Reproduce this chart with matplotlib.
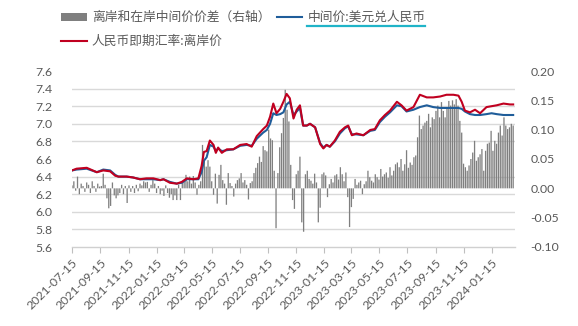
import numpy as np
import pandas as pd
import matplotlib
matplotlib.use("Agg")
import matplotlib.pyplot as plt
import matplotlib.dates as mdates
from matplotlib.patches import Patch
from matplotlib.lines import Line2D

plt.rcParams['font.family'] = ['Noto Sans CJK SC', 'DejaVu Sans']

# ---- data ----
line_dates = [
    '2021-07-15', '2021-07-25', '2021-08-16', '2021-09-07', '2021-09-21', '2021-10-06', '2021-10-17',
    '2021-10-24', '2021-11-11', '2021-11-25', '2021-12-10', '2021-12-24', '2022-01-08', '2022-01-23',
    '2022-01-30', '2022-02-13', '2022-02-28', '2022-03-11', '2022-03-22', '2022-04-05', '2022-04-16',
    '2022-04-23', '2022-04-28', '2022-05-04', '2022-05-11', '2022-05-19', '2022-05-24', '2022-05-29',
    '2022-06-06', '2022-06-17', '2022-07-01', '2022-07-16', '2022-07-30', '2022-08-10', '2022-08-21',
    '2022-09-04', '2022-09-12', '2022-09-19', '2022-09-26', '2022-10-03', '2022-10-11', '2022-10-18',
    '2022-10-25', '2022-11-01', '2022-11-09', '2022-11-16', '2022-11-23', '2022-11-30', '2022-12-08',
    '2022-12-15', '2022-12-26', '2023-01-06', '2023-01-13', '2023-01-20', '2023-01-27', '2023-02-07',
    '2023-02-18', '2023-03-01', '2023-03-08', '2023-03-16', '2023-03-26', '2023-04-10', '2023-04-25',
    '2023-05-05', '2023-05-16', '2023-05-27', '2023-06-07', '2023-06-22', '2023-07-02', '2023-07-13',
    '2023-07-28', '2023-08-11', '2023-08-26', '2023-09-09', '2023-09-24', '2023-10-08', '2023-10-23',
    '2023-11-03', '2023-11-10', '2023-11-17', '2023-11-28', '2023-12-09', '2023-12-20', '2024-01-03',
    '2024-01-14', '2024-01-25', '2024-02-09', '2024-02-23', '2024-03-01',
]
cnh_spot = [
    6.47, 6.49, 6.50, 6.45, 6.47, 6.46, 6.41,
    6.40, 6.40, 6.39, 6.37, 6.38, 6.38, 6.36,
    6.37, 6.33, 6.32, 6.34, 6.38, 6.37, 6.38,
    6.52, 6.68, 6.69, 6.81, 6.76, 6.67, 6.73,
    6.67, 6.71, 6.71, 6.76, 6.77, 6.74, 6.86,
    6.94, 6.98, 7.08, 7.23, 7.12, 7.17, 7.25,
    7.34, 7.29, 7.06, 7.16, 7.21, 6.98, 6.98,
    7.00, 6.96, 6.77, 6.72, 6.76, 6.74, 6.81,
    6.91, 6.96, 6.98, 6.87, 6.89, 6.87, 6.93,
    6.94, 7.04, 7.10, 7.15, 7.25, 7.21, 7.15,
    7.19, 7.33, 7.30, 7.30, 7.31, 7.33, 7.33,
    7.32, 7.25, 7.15, 7.13, 7.16, 7.12, 7.19,
    7.20, 7.21, 7.23, 7.22, 7.22,
]
cny_mid = [
    6.47, 6.48, 6.49, 6.45, 6.48, 6.47, 6.42,
    6.40, 6.40, 6.39, 6.37, 6.37, 6.37, 6.36,
    6.37, 6.34, 6.32, 6.33, 6.37, 6.37, 6.37,
    6.45, 6.58, 6.62, 6.76, 6.74, 6.69, 6.72,
    6.69, 6.70, 6.71, 6.75, 6.76, 6.75, 6.83,
    6.90, 6.93, 7.00, 7.12, 7.10, 7.11, 7.13,
    7.22, 7.25, 7.10, 7.14, 7.18, 6.98, 6.98,
    7.00, 6.96, 6.78, 6.73, 6.76, 6.74, 6.80,
    6.89, 6.95, 6.97, 6.88, 6.88, 6.87, 6.92,
    6.93, 7.02, 7.08, 7.13, 7.21, 7.20, 7.14,
    7.16, 7.19, 7.21, 7.19, 7.18, 7.18, 7.18,
    7.18, 7.17, 7.14, 7.11, 7.10, 7.10, 7.11,
    7.12, 7.11, 7.10, 7.10, 7.10,
]

# spread bars (right axis), one value every 4 calendar days from 2021-07-15
spread_start = '2021-07-15'
spread = [
    0.005, 0.012, -0.004, 0.02, -0.01, 0.008, 0.004, -0.006, 0.01, 0.006, -0.008, 0.012, 0.004, -0.006, 0.008, 0.003,
    0.004, 0.025, 0.006, -0.017, -0.034, -0.03, 0.01, -0.012, -0.017, -0.012, -0.008, 0.006, -0.01, 0.004, -0.025,
    0.005, -0.006, 0.004, -0.008, 0.006, -0.005, 0.008, 0.005, 0.012, 0.01, 0.011, -0.006, 0.006, 0.014, 0.008, -0.008, 0.004,
    -0.01, -0.004, -0.013, 0.005, -0.008, -0.016, -0.01, -0.02, -0.012, -0.02, 0.006, -0.02, 0.01,
    0.014, 0.023, 0.012, 0.02, 0.008, 0.021, 0.01, -0.011, 0.006, 0.012,
    0.074, 0.05, 0.037, 0.048, 0.037, 0.012, -0.011, 0.025,
    -0.026, 0.023, 0.04, 0.014, 0.008, -0.028, 0.026, 0.009, 0.004, -0.014, 0.008, 0.014,
    0.017, 0.026, 0.01, 0.014, 0.006, -0.019, 0.009, 0.012, 0.026,
    0.035, 0.043, 0.054, 0.045, 0.072, 0.065, 0.063, 0.10, 0.085, 0.082, 0.03, -0.068, 0.026,
    0.07, 0.094, 0.12, 0.168, 0.134, 0.114,
    0.04, -0.02, -0.035, 0.024, 0.03, 0.054, -0.058, -0.074, 0.024, 0.03, 0.016, 0.013, 0.008, 0.025, 0.01,
    -0.058, -0.033, 0.024, 0.027, 0.022, -0.015, 0.007, 0.016, 0.01, 0.022, 0.024, 0.015, 0.036, 0.024, 0.012,
    0.027, -0.015, -0.066, -0.032, -0.018, 0.016, 0.006, 0.01, 0.013, -0.01, 0.007, 0.012, 0.03, 0.019, 0.013,
    0.01, 0.024, 0.019, 0.015, 0.033, 0.02, 0.024, 0.027, 0.018, 0.036, 0.022, 0.03, 0.041, 0.044, 0.036,
    0.05, 0.03, 0.041, 0.065, 0.035, 0.044, 0.04, 0.053, 0.056, 0.087, 0.124, 0.101, 0.107, 0.112, 0.115,
    0.127, 0.104, 0.121, 0.118, 0.132, 0.141, 0.121, 0.147, 0.132, 0.121, 0.138, 0.149, 0.141, 0.15, 0.143,
    0.152, 0.141, 0.115, 0.095, 0.042, 0.036, 0.03, 0.039, 0.05, 0.061, 0.081, 0.047, 0.053, 0.058, 0.067,
    0.03, 0.064, 0.076, 0.078, 0.098, 0.064, 0.081, 0.076, 0.095, 0.107, 0.09, 0.121, 0.107, 0.101, 0.104,
    0.11, 0.107,
]

x_ticks = ['2021-07-15', '2021-09-15', '2021-11-15', '2022-01-15', '2022-03-15', '2022-05-15',
           '2022-07-15', '2022-09-15', '2022-11-15', '2023-01-15', '2023-03-15', '2023-05-15',
           '2023-07-15', '2023-09-15', '2023-11-15', '2024-01-15']
left_ticks = [5.6, 5.8, 6.0, 6.2, 6.4, 6.6, 6.8, 7.0, 7.2, 7.4, 7.6]
right_ticks = [-0.10, -0.05, 0.00, 0.05, 0.10, 0.15, 0.20]

labels = ['离岸和在岸中间价价差（右轴）', '中间价:美元兑人民币', '人民币即期汇率:离岸价']

# ---- figure ----
W, H = 578, 326
fig = plt.figure(figsize=(W / 100, H / 100), dpi=100)
rect = [72 / W, 1 - 247 / H, (515 - 72) / W, (247 - 71) / H]
ax = fig.add_axes(rect)
ax2 = ax.twinx()
ax.set_zorder(ax2.get_zorder() + 1)
ax.patch.set_visible(False)

txt = '#595959'
grid_c = '#d9d9d9'
bar_c = '#7f7f7f'
num_font = ['Lato', 'DejaVu Sans']

ld = pd.to_datetime(line_dates)
bd = pd.date_range(spread_start, periods=len(spread), freq='4D')

bars = ax2.bar(bd, spread, width=2.8, color=bar_c, linewidth=0, zorder=2)
for b in bars:
    b.set_snap(False)
ax.plot(ld, cny_mid, color='#1f5d9a', lw=1.5, zorder=3, solid_joinstyle='round')
ax.plot(ld, cnh_spot, color='#c00020', lw=1.5, zorder=4, solid_joinstyle='round')

xmin, xmax = pd.Timestamp('2021-07-15'), pd.Timestamp('2024-03-05')
ax.set_xlim(xmin, xmax)
ax.set_ylim(5.6, 7.6)
ax2.set_ylim(-0.10, 0.20)

ax.set_yticks(left_ticks)
ax.set_yticklabels([f'{v:.1f}' for v in left_ticks], family=num_font, fontsize=8.8, color=txt)
ax2.set_yticks(right_ticks)
ax2.set_yticklabels([f'{v:.2f}' for v in right_ticks], family=num_font, fontsize=8.8, color=txt)

# horizontal gridlines behind bars (on the bar axis, at left-axis tick levels)
ax2.set_yticks(np.linspace(-0.10, 0.20, len(left_ticks)), minor=True)
ax2.yaxis.grid(True, which='minor', color=grid_c, lw=1.0, zorder=0)
ax2.set_axisbelow(True)
ax2.tick_params(axis='y', which='both', length=0, pad=11)
ax.tick_params(axis='y', length=0, pad=14)

xt = pd.to_datetime(x_ticks)
ax.set_xticks(xt)
ax.set_xticklabels(x_ticks, rotation=45, ha='right', va='top', rotation_mode='anchor',
                   family=num_font, fontsize=8.8, color=txt)
ax.tick_params(axis='x', length=4, color='#bfbfbf', pad=3)

for a in (ax, ax2):
    for s in ('top', 'left', 'right', 'bottom'):
        a.spines[s].set_visible(False)
ax.spines['bottom'].set_visible(True)
ax.spines['bottom'].set_color('#d0d0d0')
ax.spines['bottom'].set_linewidth(1.0)

handles = [Patch(facecolor=bar_c, edgecolor='none'),
           Line2D([], [], color='#c00020', lw=1.5),
           Line2D([], [], color='#1f5d9a', lw=1.5)]
leg = fig.legend(handles, [labels[0], labels[2], labels[1]], ncol=2, loc='upper left',
                 bbox_to_anchor=(56 / W, 1 - 6 / H), frameon=False, fontsize=9.2,
                 handlelength=2.0, handleheight=0.6, handletextpad=0.4, columnspacing=0.5,
                 labelspacing=0.85, borderaxespad=0)
for t in leg.get_texts():
    t.set_color(txt)

# teal underline under the second legend label
fig.canvas.draw()
tb = leg.get_texts()[2].get_window_extent()
fig.add_artist(Line2D([tb.x0 / W, tb.x1 / W], [(tb.y0 - 2) / H, (tb.y0 - 2) / H],
                      transform=fig.transFigure, color='#20b4c8', lw=1.6))

fig.savefig('out.png', dpi=100)
